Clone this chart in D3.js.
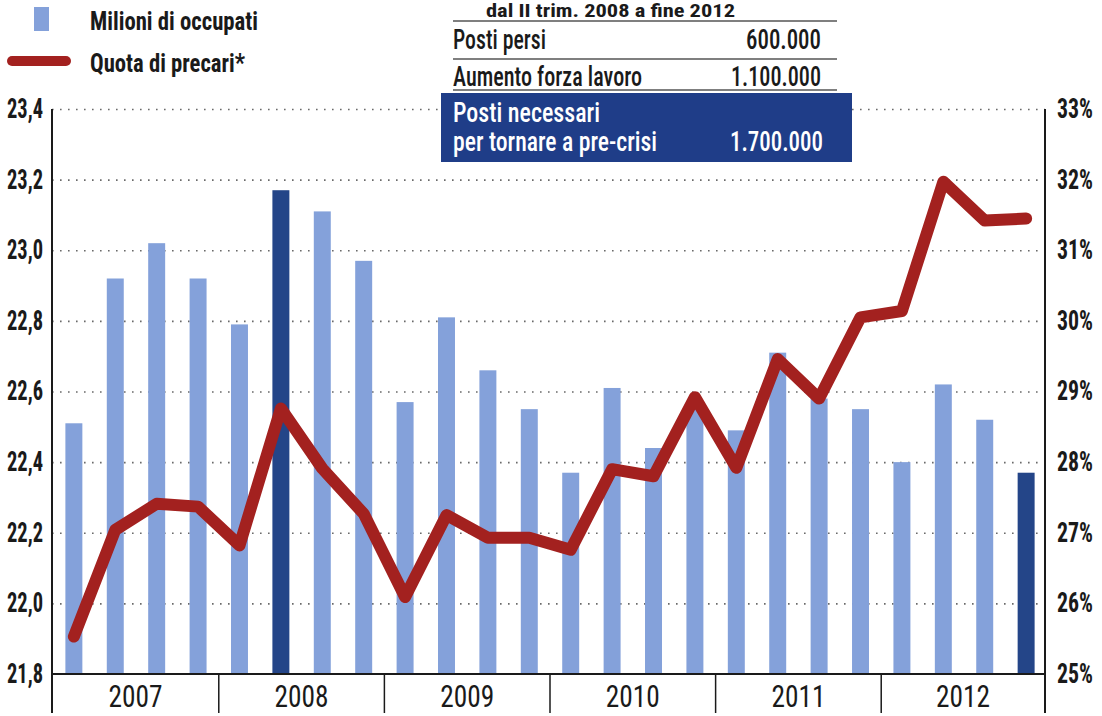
<!DOCTYPE html>
<html><head><meta charset="utf-8">
<script src="https://cdn.jsdelivr.net/npm/d3@7"></script>
<style>html,body{margin:0;padding:0;background:#fff;} svg{display:block}</style>
</head><body>
<svg id="c" width="1102" height="716"></svg>
<script>
// ---------- DATA ----------
const quarters = ["2007 I","2007 II","2007 III","2007 IV","2008 I","2008 II","2008 III","2008 IV",
  "2009 I","2009 II","2009 III","2009 IV","2010 I","2010 II","2010 III","2010 IV",
  "2011 I","2011 II","2011 III","2011 IV","2012 I","2012 II","2012 III","2012 IV"];
const years = ["2007","2008","2009","2010","2011","2012"];
const occupati = [22.51, 22.92, 23.02, 22.92, 22.79, 23.17, 23.11, 22.97,
  22.57, 22.81, 22.66, 22.55, 22.37, 22.61, 22.44, 22.56,
  22.49, 22.71, 22.58, 22.55, 22.40, 22.62, 22.52, 22.37];
const quotaPrecari = [25.53, 27.04, 27.41, 27.37, 26.82, 28.76, 27.91, 27.27,
  26.09, 27.25, 26.93, 26.93, 26.76, 27.90, 27.80, 28.92,
  27.92, 29.46, 28.90, 30.05, 30.14, 31.97, 31.42, 31.45];
const leftTicks = [21.8, 22.0, 22.2, 22.4, 22.6, 22.8, 23.0, 23.2, 23.4];
const rightTicks = [25, 26, 27, 28, 29, 30, 31, 32, 33];
const highlighted = ["2008 II", "2012 IV"];
const legendLabels = ["Milioni di occupati", "Quota di precari*"];
const tableTitle = "dal II trim. 2008 a fine 2012";
const tableLabels = ["Posti persi", "Aumento forza lavoro"];
const tableValues = ["600.000", "1.100.000"];
const totalLabel = ["Posti necessari", "per tornare a pre-crisi"];
const totalValue = "1.700.000";

// ---------- STYLE ----------
const FONT = "'Liberation Sans Narrow','Roboto Condensed','DejaVu Sans Condensed',Roboto,'Liberation Sans',sans-serif";
const INK = "#1a1a1a";
const BAR = "#84a1da", BAR_DARK = "#244588", LINE = "#a3211f", BOX = "#1f3d88";

const svg = d3.select("#c");
const X0 = 52, X1 = 1045, YB = 674, YT = 109, YEND = 713;

const x = d3.scaleBand().domain(quarters).range([54, 1046]).paddingInner(0.59).paddingOuter(0.275);
const yL = d3.scaleLinear().domain([21.8, 23.4]).range([YB, YT]);
const yR = d3.scaleLinear().domain([25, 33]).range([YB, YT]);

function fit(sel, w) {
  sel.attr("textLength", w).attr("lengthAdjust", "spacingAndGlyphs");
}
function condense(sel, f) {
  sel.each(function () {
    const len = this.getComputedTextLength();
    d3.select(this).attr("textLength", len * f).attr("lengthAdjust", "spacingAndGlyphs");
  });
}

// gridlines
const grid = svg.append("g").attr("transform", `translate(${X0},0)`)
  .call(d3.axisLeft(yL).tickValues(leftTicks.filter(t => t > 21.8)).tickSize(-(X1 - X0)).tickFormat(""));
grid.select(".domain").remove();
grid.selectAll("line").attr("stroke", "#6a6a6a").attr("stroke-width", 1.6).attr("stroke-dasharray", "1.6,6.4");

// bars
svg.append("g").selectAll("rect").data(quarters).join("rect")
  .attr("x", d => x(d)).attr("width", x.bandwidth())
  .attr("y", (d, i) => yL(occupati[i]))
  .attr("height", (d, i) => YB - yL(occupati[i]))
  .attr("fill", d => highlighted.includes(d) ? BAR_DARK : BAR);

// line
const line = d3.line().x((d, i) => x(quarters[i]) + x.bandwidth() / 2).y(d => yR(d));
svg.append("path").datum(quotaPrecari).attr("d", line)
  .attr("fill", "none").attr("stroke", LINE).attr("stroke-width", 12)
  .attr("stroke-linejoin", "round").attr("stroke-linecap", "round");

// axes frame
svg.append("line").attr("x1", X0).attr("x2", X0).attr("y1", YT).attr("y2", YEND).attr("stroke", INK).attr("stroke-width", 2);
svg.append("line").attr("x1", X1).attr("x2", X1).attr("y1", YT).attr("y2", YEND).attr("stroke", INK).attr("stroke-width", 2);
svg.append("line").attr("x1", X0).attr("x2", X1).attr("y1", YB).attr("y2", YB).attr("stroke", INK).attr("stroke-width", 2);

// left axis labels
const axL = svg.append("g").attr("transform", `translate(${X0},0)`)
  .call(d3.axisLeft(yL).tickValues(leftTicks).tickSize(0).tickPadding(9)
    .tickFormat(d => d3.format(".1f")(d).replace(".", ",")));
axL.select(".domain").remove();
axL.selectAll("text").attr("font-family", FONT).attr("font-weight", "bold").attr("font-size", 28)
  .attr("fill", INK).attr("dy", "0.3em");
{
  const first = axL.select("text").node().getComputedTextLength();
  condense(axL.selectAll("text"), 36 / first);
}

// right axis labels
const axR = svg.append("g").attr("transform", `translate(${X1},0)`)
  .call(d3.axisRight(yR).tickValues(rightTicks).tickSize(0).tickPadding(12).tickFormat(d => d + "%"));
axR.select(".domain").remove();
axR.selectAll("text").attr("font-family", FONT).attr("font-weight", "bold").attr("font-size", 28)
  .attr("fill", INK).attr("dy", "0.3em");
{
  const first = axR.select("text").node().getComputedTextLength();
  condense(axR.selectAll("text"), 36 / first);
}

// year separators & labels
const bounds = [X0];
for (let k = 1; k < years.length; k++) {
  const a = quarters[4 * k - 1], b = quarters[4 * k];
  bounds.push((x(a) + x.bandwidth() + x(b)) / 2);
}
bounds.push(X1);
svg.append("g").selectAll("line").data(bounds.slice(1, -1)).join("line")
  .attr("x1", d => d).attr("x2", d => d).attr("y1", YB).attr("y2", YEND)
  .attr("stroke", INK).attr("stroke-width", 1.5);
const yrs = svg.append("g").selectAll("text").data(years).join("text")
  .attr("x", (d, i) => (bounds[i] + bounds[i + 1]) / 2).attr("y", 707)
  .attr("text-anchor", "middle").attr("font-family", FONT).attr("font-size", 31)
  .attr("fill", INK).text(d => d);
{
  const first = yrs.node().getComputedTextLength();
  condense(yrs, 54 / first);
}

// legend
svg.append("rect").attr("x", 34).attr("y", 7).attr("width", 15).attr("height", 24).attr("fill", BAR);
svg.append("line").attr("x1", 12).attr("x2", 66).attr("y1", 61).attr("y2", 61)
  .attr("stroke", LINE).attr("stroke-width", 10).attr("stroke-linecap", "round");
svg.append("text").attr("x", 90).attr("y", 30).attr("font-family", FONT).attr("font-weight", "bold")
  .attr("font-size", 25).attr("fill", INK).text(legendLabels[0]).call(fit, 168);
svg.append("text").attr("x", 90).attr("y", 72).attr("font-family", FONT).attr("font-weight", "bold")
  .attr("font-size", 25).attr("fill", INK).text(legendLabels[1]).call(fit, 155);

// table
const T = svg.append("g");
T.append("text").attr("x", 486).attr("y", 17).attr("font-family", FONT).attr("font-weight", "bold")
  .attr("font-size", 19).attr("fill", INK).text(tableTitle).call(fit, 249);
[21, 59, 90].forEach(yy => T.append("line").attr("x1", 453).attr("x2", 837).attr("y1", yy).attr("y2", yy)
  .attr("stroke", "#555").attr("stroke-width", 1.5));
const rowY = [49, 86];
const labW = [93, 189], valW = [75, 90];
tableLabels.forEach((t, i) => {
  T.append("text").attr("x", 453).attr("y", rowY[i]).attr("font-family", FONT).attr("font-weight", 500)
    .attr("font-size", 27).attr("fill", INK).text(t).call(fit, labW[i]);
  T.append("text").attr("x", 821).attr("y", rowY[i]).attr("text-anchor", "end").attr("font-family", FONT)
    .attr("font-weight", 500).attr("font-size", 27).attr("fill", INK).text(tableValues[i]).call(fit, valW[i]);
});
T.append("rect").attr("x", 441).attr("y", 93).attr("width", 411).attr("height", 69).attr("fill", BOX);
T.append("text").attr("x", 453).attr("y", 122).attr("font-family", FONT).attr("font-weight", 500).attr("font-size", 27)
  .attr("fill", "#fff").text(totalLabel[0]).call(fit, 147);
T.append("text").attr("x", 453).attr("y", 151).attr("font-family", FONT).attr("font-weight", 500).attr("font-size", 27)
  .attr("fill", "#fff").text(totalLabel[1]).call(fit, 204);
T.append("text").attr("x", 823).attr("y", 151).attr("text-anchor", "end").attr("font-family", FONT)
  .attr("font-weight", 500).attr("font-size", 27).attr("fill", "#fff").text(totalValue).call(fit, 93);
</script>
</body></html>
